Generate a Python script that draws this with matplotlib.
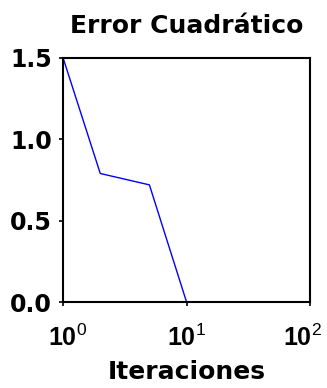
import numpy as np
import matplotlib
matplotlib.use("Agg")
import matplotlib.pyplot as plt
from matplotlib.transforms import ScaledTranslation

# Datos
iteraciones = [1, 2, 5, 10]
error = [1.5, 0.79, 0.72, 0.0]

xticks = [1, 10, 100]
xticklabels = [r"$\mathbf{10}^{0}$", r"$\mathbf{10}^{1}$", r"$\mathbf{10}^{2}$"]
yticks = [0.0, 0.5, 1.0, 1.5]
yticklabels = ["0.0", "0.5", "1.0", "1.5"]

plt.rcParams["font.family"] = ["DejaVu Sans"]
plt.rcParams["mathtext.fontset"] = "custom"
plt.rcParams["mathtext.bf"] = "Liberation Sans:bold"
plt.rcParams["mathtext.rm"] = "Liberation Sans"
plt.rcParams["mathtext.it"] = "Liberation Sans"

fig = plt.figure(figsize=(3.27, 3.88), dpi=100)
ax = fig.add_axes([0.193, 0.2216, 0.755, 0.629])

ax.plot(iteraciones, error, "-", color="#0000ff", linewidth=1.0)

ax.set_xscale("log")
ax.set_xlim(1, 100)
ax.set_ylim(0, 1.5)
ax.set_xticks(xticks)
ax.set_xticklabels(xticklabels, fontsize=18)
ax.minorticks_off()
ax.set_yticks(yticks)
ax.set_yticklabels(yticklabels, fontsize=17, fontweight="bold")

ax.tick_params(direction="out", length=3, width=1.2)
ax.tick_params(axis="y", pad=5)
ax.tick_params(axis="x", pad=13.5)
for s in ax.spines.values():
    s.set_linewidth(1.5)

# los extremos quedan desplazados hacia dentro, como en el original
labs = ax.get_xticklabels()
labs[0].set_transform(labs[0].get_transform() + ScaledTranslation(4 / 100, 0, fig.dpi_scale_trans))
labs[-1].set_transform(labs[-1].get_transform() + ScaledTranslation(-8 / 100, 0, fig.dpi_scale_trans))

ax.set_title("Error Cuadrático", fontsize=18, fontweight="bold", pad=18)
ax.set_xlabel("Iteraciones", fontsize=18, fontweight="bold", labelpad=6)

fig.savefig("out.png", dpi=100)
